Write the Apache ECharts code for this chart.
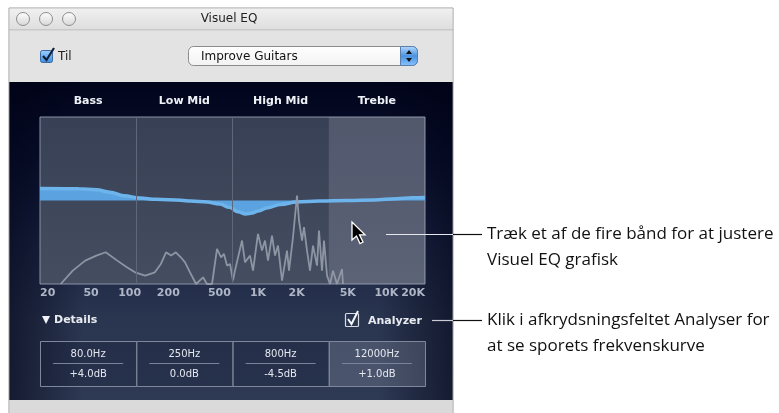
<!DOCTYPE html>
<html>
<head>
<meta charset="utf-8">
<title>Visuel EQ</title>
<script src="https://cdn.jsdelivr.net/npm/echarts@6/dist/echarts.min.js"></script>
<style>
  html, body { margin: 0; padding: 0; background: #fff; }
  #chart { width: 779px; height: 413px; }
</style>
</head>
<body>
<div id="chart"></div>
<script>
// EQ curve (Hz / dB)
const eqFreq = [20, 40, 55, 70, 90, 120, 160, 250, 300, 400, 500, 600, 700, 800, 900, 1000, 1200, 1500, 2000, 3000, 5000, 8000, 12000, 16000, 20000]
const eqGain = [4.0, 3.9, 3.6, 2.8, 1.6, 0.8, 0.4, 0.1, -0.2, -0.5, -1.2, -2.3, -3.8, -4.5, -4.2, -3.5, -2.4, -1.3, -0.5, -0.2, 0.0, 0.2, 0.6, 0.9, 1.0]

// analyzer trace (Hz / level 0..100)
const specFreq = [29, 36, 45, 55, 65, 80, 95, 110, 132, 157, 175, 192, 210, 229, 250, 270, 295, 329, 373, 400, 438, 479, 515, 543, 573, 605, 638, 661, 750, 792, 866, 914, 999, 1074, 1133, 1196, 1285, 1356, 1431, 1538, 1682, 1743, 1873, 2012, 2086, 2201, 2282, 2408, 2541, 2682, 2882, 2986, 3151, 3266, 3448, 3638, 3840, 4124, 4511, 4594]
const specLevel = [0, 8, 14, 17, 19, 14, 10, 7, 5, 7, 12, 19, 17, 19, 16, 13, 7, 0, 4, 0, 0, 21, 16, 18, 11, 12, 2, 8, 26, 13, 17, 8, 30, 20, 26, 14, 29, 17, 23, 2, 20, 8, 28, 53, 38, 26, 34, 20, 8, 23, 11, 32, 8, 26, 5, 0, 8, 0, 9, 0]

const tickFreq = [20, 50, 100, 200, 500, 1000, 2000, 5000, 10000, 20000]
const tickLabels = ['20', '50', '100', '200', '500', '1K', '2K', '5K', '10K', '20K']

const bandNames = ['Bass', 'Low Mid', 'High Mid', 'Treble']
const bandEdges = [20, 112.5, 632.5, 3557, 20000]
const bandFreqText = ['80.0Hz', '250Hz', '800Hz', '12000Hz']
const bandGainText = ['+4.0dB', '0.0dB', '-4.5dB', '+1.0dB']

const L = Math.log10
const FONT = 'DejaVu Sans'

// plot geometry (px)
const PX = 40, PY = 117, PW = 385, PH = 167

function findLabel(list, names, v) {
  const i = list.findIndex(f => Math.abs(L(f) - v) < 1e-4)
  return i < 0 ? '' : names[i]
}

const bandCenters = bandNames.map((n, i) => Math.pow(10, (L(bandEdges[i]) + L(bandEdges[i + 1])) / 2))

function lin(x0, y0, x1, y1, stops) {
  return new echarts.graphic.LinearGradient(x0, y0, x1, y1, stops.map((c, i) => ({ offset: i / (stops.length - 1), color: c })))
}

function chromeElements() {
  const els = []
  // window frame
  els.push({ type: 'rect', z: -10, shape: { x: 9, y: 8, width: 444, height: 406 }, style: { fill: '#dcdcdc', stroke: '#9c9c9c', lineWidth: 1 } })
  els.push({ type: 'rect', z: -9, shape: { x: 9.5, y: 8.5, width: 443, height: 21 }, style: { fill: lin(0, 0, 0, 1, ['#f0f0f0', '#dedede']) } })
  els.push({ type: 'line', z: -9, shape: { x1: 9, y1: 30, x2: 453, y2: 30 }, style: { stroke: '#b4b4b4', lineWidth: 1 } })
  els.push({ type: 'rect', z: -9, shape: { x: 9.5, y: 30.5, width: 443, height: 51.5 }, style: { fill: '#e3e3e3' } })
  ;[23, 46, 69].forEach(cx => {
    els.push({ type: 'circle', z: -8, shape: { cx: cx, cy: 19, r: 6.5 }, style: { fill: lin(0, 0, 0, 1, ['#ffffff', '#d6d6d6']), stroke: '#8e8e8e', lineWidth: 1 } })
  })
  els.push({ type: 'text', z: -8, style: { x: 229, y: 19, text: 'Visuel EQ', font: '12px ' + FONT, fill: '#222', align: 'center', verticalAlign: 'middle' } })

  // toolbar: checkbox + popup
  els.push({ type: 'rect', z: -8, shape: { x: 40.5, y: 50.5, width: 12, height: 12, r: 2 }, style: { fill: lin(0, 0, 0, 1, ['#9fd0ff', '#3d8be0']), stroke: '#3a6aa0', lineWidth: 1 } })
  els.push({ type: 'polyline', z: -7, shape: { points: [[43, 56], [46.5, 60], [54, 48]] }, style: { stroke: '#10203a', lineWidth: 2.2, fill: null } })
  els.push({ type: 'text', z: -8, style: { x: 58, y: 57, text: 'Til', font: '12px ' + FONT, fill: '#222', verticalAlign: 'middle' } })
  els.push({ type: 'rect', z: -8, shape: { x: 188.5, y: 46.5, width: 229, height: 19, r: 5 }, style: { fill: lin(0, 0, 0, 1, ['#ffffff', '#f2f2f2']), stroke: '#8c8c8c', lineWidth: 1 } })
  els.push({ type: 'rect', z: -7, shape: { x: 400.5, y: 46.5, width: 17, height: 19, r: [0, 5, 5, 0] }, style: { fill: lin(0, 0, 0, 1, ['#b8dcff', '#4a92e0', '#8ac4ff']), stroke: '#5a7fae', lineWidth: 1 } })
  els.push({ type: 'polygon', z: -6, shape: { points: [[406, 54], [409, 50], [412, 54]] }, style: { fill: '#111' } })
  els.push({ type: 'polygon', z: -6, shape: { points: [[406, 58], [409, 62], [412, 58]] }, style: { fill: '#111' } })
  els.push({ type: 'text', z: -7, style: { x: 201, y: 56.5, text: 'Improve Guitars', font: '12px ' + FONT, fill: '#111', verticalAlign: 'middle' } })

  // dark panel
  els.push({ type: 'rect', z: -9, shape: { x: 9.5, y: 82, width: 443, height: 318 }, style: { fill: lin(0, 0, 0, 1, ['#01041a', '#0a1130', '#1b2543', '#2a3550', '#2e3954']) } })
  els.push({ type: 'rect', z: -8, shape: { x: 9.5, y: 82, width: 443, height: 318 }, style: { fill: lin(0, 0, 1, 0, ['rgba(0,2,20,0.55)', 'rgba(0,2,20,0)', 'rgba(0,2,20,0)', 'rgba(0,2,20,0)', 'rgba(0,2,20,0)', 'rgba(0,2,20,0)', 'rgba(0,2,20,0.55)']) } })
  els.push({ type: 'rect', z: -9, shape: { x: 9.5, y: 400, width: 443, height: 14 }, style: { fill: '#dadada' } })

  // details row
  els.push({ type: 'polygon', z: 5, shape: { points: [[42, 316], [50, 316], [46, 324]] }, style: { fill: '#f0f2f6' } })
  els.push({ type: 'text', z: 5, style: { x: 54, y: 320.5, text: 'Details', font: 'bold 11px ' + FONT, fill: '#e8ebf0', verticalAlign: 'middle' } })
  els.push({ type: 'rect', z: 5, shape: { x: 345.5, y: 313.5, width: 13, height: 13, r: 1 }, style: { fill: 'rgba(0,0,0,0)', stroke: '#d8dce4', lineWidth: 1.2 } })
  els.push({ type: 'polyline', z: 5, shape: { points: [[348, 319], [351.5, 324], [358, 311]] }, style: { stroke: '#f4f6fa', lineWidth: 2, fill: null } })
  els.push({ type: 'text', z: 5, style: { x: 368, y: 321.5, text: 'Analyzer', font: 'bold 11px ' + FONT, fill: '#e8ebf0', verticalAlign: 'middle' } })

  const bw = PW / 4
  bandNames.forEach((n, i) => {
    const x = PX + i * bw
    const cx = x + bw / 2
    els.push({ type: 'rect', z: 5, shape: { x: x + 0.5, y: 341.5, width: bw, height: 45 }, style: { fill: i === 3 ? 'rgba(190,198,215,0.2)' : 'rgba(20,28,50,0.25)', stroke: '#7f879b', lineWidth: 1 } })
    els.push({ type: 'text', z: 6, style: { x: cx, y: 354, text: bandFreqText[i], font: '10px ' + FONT, fill: '#e4e7ee', align: 'center', verticalAlign: 'middle' } })
    els.push({ type: 'line', z: 6, shape: { x1: cx - 35, y1: 363.5, x2: cx + 35, y2: 363.5 }, style: { stroke: '#7b8398', lineWidth: 1 } })
    els.push({ type: 'text', z: 6, style: { x: cx, y: 374, text: bandGainText[i], font: '10px ' + FONT, fill: '#e4e7ee', align: 'center', verticalAlign: 'middle' } })
  })

  // mouse pointer
  const tx = 352, ty = 222
  const arrow = [[0, 0], [0, 18], [4.5, 14], [8, 21.5], [11, 20], [7.5, 12.8], [13, 12.8]].map(p => [tx + p[0], ty + p[1]])
  els.push({ type: 'polygon', z: 20, shape: { points: arrow }, style: { fill: '#000', stroke: '#fff', lineWidth: 1.3 } })

  // callouts
  els.push({ type: 'line', z: 20, shape: { x1: 386, y1: 234.5, x2: 453, y2: 234.5 }, style: { stroke: '#e6e8ee', lineWidth: 1.2 } })
  els.push({ type: 'line', z: 20, shape: { x1: 453, y1: 234.5, x2: 482, y2: 234.5 }, style: { stroke: '#111', lineWidth: 1.2 } })
  els.push({ type: 'line', z: 20, shape: { x1: 432, y1: 320.5, x2: 453, y2: 320.5 }, style: { stroke: '#c9ccd4', lineWidth: 1.2 } })
  els.push({ type: 'line', z: 20, shape: { x1: 453, y1: 320.5, x2: 482, y2: 320.5 }, style: { stroke: '#111', lineWidth: 1.2 } })
  const note = '17px "Open Sans"'
  els.push({ type: 'text', z: 20, style: { x: 487, y: 234, text: 'Træk et af de fire bånd for at justere', font: note, fill: '#111', verticalAlign: 'middle' } })
  els.push({ type: 'text', z: 20, style: { x: 487, y: 260, text: 'Visuel EQ grafisk', font: note, fill: '#111', verticalAlign: 'middle' } })
  els.push({ type: 'text', z: 20, style: { x: 487, y: 320, text: 'Klik i afkrydsningsfeltet Analyser for', font: note, fill: '#111', verticalAlign: 'middle' } })
  els.push({ type: 'text', z: 20, style: { x: 487, y: 346, text: 'at se sporets frekvenskurve', font: note, fill: '#111', verticalAlign: 'middle' } })
  return els
}

function buildOption() {
  const xMin = L(20), xMax = L(20000)
  return {
    animation: false,
    backgroundColor: '#ffffff',
    graphic: { elements: chromeElements() },
    grid: {
      left: PX, top: PY, width: PW, height: PH,
      show: true,
      backgroundColor: lin(0, 0, 0, 1, ['#384055', '#454d61']),
      borderColor: '#8a92a5',
      borderWidth: 1
    },
    xAxis: [
      {
        type: 'value', min: xMin, max: xMax, position: 'bottom',
        axisLine: { show: false }, axisTick: { show: false }, splitLine: { show: false },
        axisLabel: {
          customValues: tickFreq.map(L),
          formatter: v => findLabel(tickFreq, tickLabels, v),
          color: '#aeb6c6', fontWeight: 'bold', fontSize: 11, fontFamily: FONT,
          margin: 4, alignMinLabel: 'left', alignMaxLabel: 'right', hideOverlap: false
        }
      },
      {
        type: 'value', min: xMin, max: xMax, position: 'top',
        axisLine: { show: false }, axisTick: { show: false }, splitLine: { show: false },
        axisLabel: {
          customValues: bandCenters.map(L),
          formatter: v => findLabel(bandCenters, bandNames, v),
          color: '#eef1f6', fontWeight: 'bold', fontSize: 11, fontFamily: FONT, margin: 10
        }
      }
    ],
    yAxis: [
      { type: 'value', min: -28, max: 28, show: false },
      { type: 'value', min: 0, max: 100, show: false }
    ],
    series: [
      {
        // band shading and dividers
        type: 'line', data: [], z: 1, silent: true,
        markArea: {
          silent: true,
          itemStyle: { color: 'rgba(205,210,225,0.17)' },
          data: [[{ xAxis: L(bandEdges[3]) }, { xAxis: L(bandEdges[4]) }]]
        },
        markLine: {
          silent: true, symbol: 'none', label: { show: false },
          lineStyle: { color: '#5f677b', width: 1, type: 'solid' },
          data: [{ xAxis: L(bandEdges[1]) }, { xAxis: L(bandEdges[2]) }]
        }
      },
      {
        name: 'EQ', type: 'line', yAxisIndex: 0, z: 2,
        data: eqFreq.map((f, i) => [L(f), eqGain[i]]),
        showSymbol: false, smooth: 0.4, smoothMonotone: 'x',
        lineStyle: { width: 3.5, color: '#6db4ec' },
        areaStyle: { color: '#5ba3e0', opacity: 1, origin: 'auto' }
      },
      {
        name: 'Analyzer', type: 'line', yAxisIndex: 1, z: 3,
        data: specFreq.map((f, i) => [L(f), specLevel[i]]),
        showSymbol: false,
        lineStyle: { width: 1.8, color: 'rgba(150,156,170,0.9)' }
      }
    ]
  }
}

const chart = echarts.init(document.getElementById('chart'))
chart.setOption(buildOption())
</script>
</body>
</html>
